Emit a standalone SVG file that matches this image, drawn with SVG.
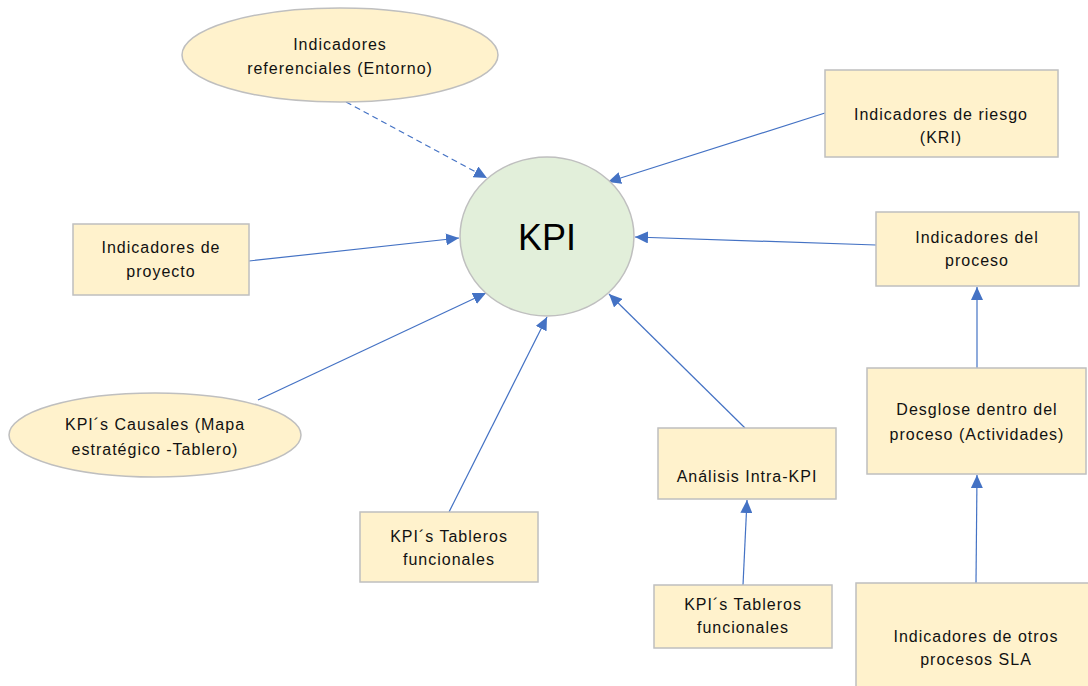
<svg xmlns="http://www.w3.org/2000/svg" width="1088" height="686" viewBox="0 0 1088 686">
<style>
.box{fill:#FFF2CC;stroke:#BFBFBF;stroke-width:1.5}
.kpi{fill:#E2EFDA;stroke:#BFBFBF;stroke-width:1.5}
.t{font-family:"Liberation Sans",Arial,sans-serif;font-size:16px;fill:#111111;text-anchor:middle;letter-spacing:1px}
.c{stroke:#4472C4;stroke-width:1.2;fill:none;marker-end:url(#ah)}
</style>
<defs>
<marker id="ah" markerUnits="userSpaceOnUse" markerWidth="14" markerHeight="12" refX="13" refY="6" orient="auto">
<path d="M0,0 L13,6 L0,12 Z" fill="#4472C4"/>
</marker>
</defs>
<rect width="1088" height="686" fill="#ffffff"/>
<g id="connectors">
<line class="c" x1="346" y1="102" x2="487" y2="178" stroke-dasharray="6,4"/>
<line class="c" x1="825" y1="113" x2="608" y2="182"/>
<line class="c" x1="249" y1="261" x2="459" y2="238"/>
<line class="c" x1="876" y1="245" x2="635" y2="237"/>
<line class="c" x1="258" y1="400" x2="486" y2="293"/>
<line class="c" x1="449" y1="512" x2="547" y2="317"/>
<line class="c" x1="745" y1="428" x2="609" y2="294"/>
<line class="c" x1="743" y1="585" x2="747" y2="500"/>
<line class="c" x1="977" y1="368" x2="977" y2="287"/>
<line class="c" x1="976" y1="583" x2="977" y2="475"/>
</g>
<g id="kpi">
<ellipse class="kpi" cx="547" cy="236.5" rx="87" ry="79.5"/>
<text x="547" y="250" style="font-family:'Liberation Sans',Arial,sans-serif;font-size:36px;fill:#000;text-anchor:middle">KPI</text>
</g>
<g id="referenciales">
<ellipse class="box" cx="340" cy="55" rx="158" ry="47"/>
<text class="t" x="340" y="50">Indicadores</text>
<text class="t" x="340" y="74">referenciales (Entorno)</text>
</g>
<g id="riesgo">
<rect class="box" x="825" y="70" width="233" height="87"/>
<text class="t" x="941" y="120">Indicadores de riesgo</text>
<text class="t" x="941" y="143">(KRI)</text>
</g>
<g id="proyecto">
<rect class="box" x="73" y="224" width="176" height="71"/>
<text class="t" x="161" y="253">Indicadores de</text>
<text class="t" x="161" y="277">proyecto</text>
</g>
<g id="proceso">
<rect class="box" x="876" y="212" width="203" height="74"/>
<text class="t" x="977" y="243">Indicadores del</text>
<text class="t" x="977" y="266">proceso</text>
</g>
<g id="causales">
<ellipse class="box" cx="155" cy="435" rx="146" ry="42"/>
<text class="t" x="155" y="430">KPI´s Causales (Mapa</text>
<text class="t" x="155" y="455">estratégico -Tablero)</text>
</g>
<g id="tableros1">
<rect class="box" x="360" y="512" width="178" height="70"/>
<text class="t" x="449" y="542">KPI´s Tableros</text>
<text class="t" x="449" y="565">funcionales</text>
</g>
<g id="analisis">
<rect class="box" x="658" y="428" width="178" height="71"/>
<text class="t" x="747" y="482">Análisis Intra-KPI</text>
</g>
<g id="tableros2">
<rect class="box" x="654" y="585" width="178" height="63"/>
<text class="t" x="743" y="610">KPI´s Tableros</text>
<text class="t" x="743" y="633">funcionales</text>
</g>
<g id="desglose">
<rect class="box" x="867" y="368" width="219" height="106"/>
<text class="t" x="977" y="415">Desglose dentro del</text>
<text class="t" x="977" y="440">proceso (Actividades)</text>
</g>
<g id="otros">
<rect class="box" x="856" y="583" width="240" height="110"/>
<text class="t" x="976" y="642">Indicadores de otros</text>
<text class="t" x="976" y="665">procesos SLA</text>
</g>
</svg>
